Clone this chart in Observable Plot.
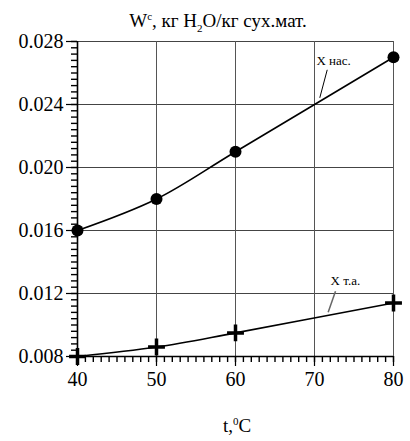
<!DOCTYPE html>
<html><head><meta charset="utf-8">
<script src="https://cdn.jsdelivr.net/npm/d3@7"></script>
<script src="https://cdn.jsdelivr.net/npm/@observablehq/plot@0.6"></script>
<style>
body{margin:0;background:#fff}
svg{display:block}
</style>
</head><body><div id="chart"></div>
<script>
const temps = [40, 50, 60, 80];
const xNas = [0.016, 0.018, 0.021, 0.027];
const xTa = [0.008, 0.0086, 0.0095, 0.0114];
const yMajor = [0.008, 0.012, 0.016, 0.020, 0.024, 0.028];
const xMajor = [40, 50, 60, 70, 80];
const yMinor = [
  0.0080, 0.0084, 0.0088, 0.0092, 0.0096, 0.0100, 0.0104, 0.0108, 0.0112, 0.0116,
  0.0120, 0.0124, 0.0128, 0.0132, 0.0136, 0.0140, 0.0144, 0.0148, 0.0152, 0.0156,
  0.0160, 0.0164, 0.0168, 0.0172, 0.0176, 0.0180, 0.0184, 0.0188, 0.0192, 0.0196,
  0.0200, 0.0204, 0.0208, 0.0212, 0.0216, 0.0220, 0.0224, 0.0228, 0.0232, 0.0236,
  0.0240, 0.0244, 0.0248, 0.0252, 0.0256, 0.0260, 0.0264, 0.0268, 0.0272, 0.0276, 0.0280
];
const xMinor = [
  40, 41, 42, 43, 44, 45, 46, 47, 48, 49, 50, 51, 52, 53, 54, 55, 56, 57, 58, 59, 60,
  61, 62, 63, 64, 65, 66, 67, 68, 69, 70, 71, 72, 73, 74, 75, 76, 77, 78, 79, 80
];
const labelNas = "X нас.";
const labelTa = "X т.а.";

const nas = temps.map((t, i) => ({t, v: xNas[i]}));
const ta = temps.map((t, i) => ({t, v: xTa[i]}));

const serif = "Liberation Serif";

const chart = Plot.plot({
  width: 410, height: 441,
  marginLeft: 77, marginRight: 17, marginTop: 41, marginBottom: 85,
  style: {background: "#fff", color: "#000", fontFamily: serif},
  x: {domain: [40, 80]},
  y: {domain: [0.008, 0.028]},
  marks: [
    Plot.ruleY(yMajor.slice(1), {stroke: "#444", strokeWidth: 1}),
    Plot.ruleX(xMajor.slice(1), {stroke: "#555", strokeWidth: 1}),
    Plot.axisY({ticks: yMajor, tickSize: 11, tickPadding: 3, tickFormat: d3.format(".3f"), label: null, fontSize: 20, fontFamily: serif, strokeWidth: 1.2}),
    Plot.axisX({ticks: xMajor, tickSize: 10, tickPadding: 5, tickFormat: d3.format("d"), label: null, fontSize: 20, fontFamily: serif, strokeWidth: 1.2}),
    Plot.axisY({ticks: yMinor, tickSize: 6, tickFormat: () => "", label: null, stroke: "#000", strokeWidth: 1.4}),
    Plot.axisX({ticks: xMinor, tickSize: 6, tickFormat: () => "", label: null, stroke: "#000", strokeWidth: 1.4}),
    Plot.ruleX([40], {stroke: "#000", strokeWidth: 1.6}),
    Plot.ruleY([0.008], {stroke: "#000", strokeWidth: 1.6}),
    Plot.line(nas, {x: "t", y: "v", curve: "catmull-rom", stroke: "#000", strokeWidth: 1.6}),
    Plot.line(ta, {x: "t", y: "v", curve: "catmull-rom", stroke: "#000", strokeWidth: 1.6}),
    Plot.dot(nas, {x: "t", y: "v", r: 6, fill: "#000", stroke: "none"}),
    Plot.dot(ta, {x: "t", y: "v", symbol: "plus", r: 5.5, stroke: "#000", strokeWidth: 3.5}),
    Plot.link([{x1: 71.61, y1: 0.026203, x2: 70.67, y2: 0.024425}], {x1: "x1", y1: "y1", x2: "x2", y2: "y2", stroke: "#000", strokeWidth: 1}),
    Plot.link([{x1: 72.66, y1: 0.012147, x2: 71.73, y2: 0.010813}], {x1: "x1", y1: "y1", x2: "x2", y2: "y2", stroke: "#666", strokeWidth: 1.5}),
    Plot.text([labelNas], {x: 70.25, y: 0.026794, text: d => d, textAnchor: "start", fontSize: 13, fontFamily: serif, fill: "#000"}),
    Plot.text([labelTa], {x: 72.03, y: 0.012826, text: d => d, textAnchor: "start", fontSize: 13, fontFamily: serif, fill: "#000"})
  ]
});

const svg = d3.select(chart);
const title = svg.append("text")
  .attr("x", 218).attr("y", 27)
  .attr("text-anchor", "middle")
  .attr("font-family", serif).attr("font-size", 19).attr("fill", "#000");
title.append("tspan").text("W");
title.append("tspan").attr("dy", -7).attr("font-size", 11).text("c");
title.append("tspan").attr("dy", 7).text(", кг H");
title.append("tspan").attr("dy", 5).attr("font-size", 11).text("2");
title.append("tspan").attr("dy", -5).text("O/кг сух.мат.");

const xl = svg.append("text")
  .attr("x", 237).attr("y", 432)
  .attr("text-anchor", "middle")
  .attr("font-family", serif).attr("font-size", 19).attr("fill", "#000");
xl.append("tspan").text("t,");
xl.append("tspan").attr("dy", -7).attr("font-size", 11).text("0");
xl.append("tspan").attr("dy", 7).text("C");

document.getElementById("chart").appendChild(chart);
</script>
</body></html>
